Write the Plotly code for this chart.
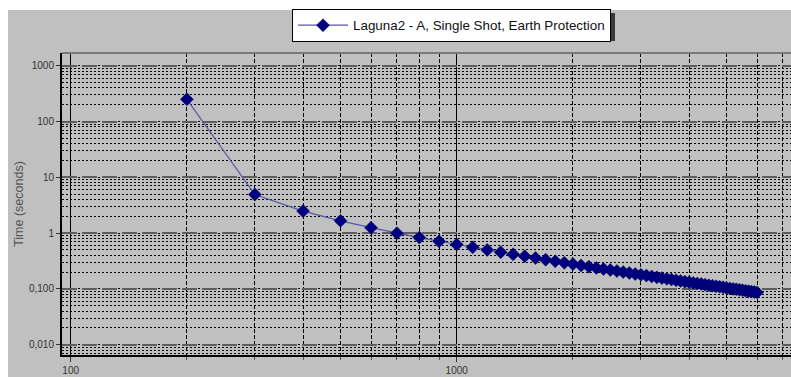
import plotly.graph_objects as go

# ---- data ----
current = [200, 300, 400, 500, 600, 700, 800, 900, 1000,
           1100, 1200, 1300, 1400, 1500, 1600, 1700, 1800, 1900, 2000,
           2100, 2200, 2300, 2400, 2500, 2600, 2700, 2800, 2900, 3000,
           3100, 3200, 3300, 3400, 3500, 3600, 3700, 3800, 3900, 4000,
           4100, 4200, 4300, 4400, 4500, 4600, 4700, 4800, 4900, 5000,
           5100, 5200, 5300, 5400, 5500, 5600, 5700, 5800, 5900, 6000]
time_s = [250, 4.91, 2.48, 1.66, 1.25, 0.998, 0.832, 0.714, 0.625,
          0.555, 0.500, 0.455, 0.417, 0.385, 0.357, 0.334, 0.313, 0.294, 0.278,
          0.263, 0.250, 0.238, 0.227, 0.218, 0.209, 0.200, 0.193, 0.185, 0.179,
          0.173, 0.167, 0.161, 0.156, 0.152, 0.147, 0.143, 0.139, 0.135, 0.132,
          0.128, 0.125, 0.122, 0.119, 0.116, 0.114, 0.111, 0.109, 0.107, 0.104,
          0.102, 0.100, 0.0982, 0.0963, 0.0945, 0.0927, 0.0910, 0.0894, 0.0879, 0.0863]
series_name = "Laguna2 - A, Single Shot, Earth Protection"
y_tickvals = [0.01, 0.1, 1, 10, 100, 1000]
y_ticktext = ["0,010", "0,100", "1", "10", "100", "1000"]
x_tickvals = [100, 1000]
x_ticktext = ["100", "1000"]

FONT = "Liberation Sans, Arial, sans-serif"
W, H = 791, 377
L, T, B, R = 62, 53, 22, 0
PW, PH = W - L - R, H - T - B


def px_x(px):
    return (px - L) / PW


def px_y(py):
    return (H - B - py) / PH


fig = go.Figure()
fig.add_trace(go.Scatter(
    x=current, y=time_s, mode="lines+markers", name=series_name,
    line=dict(color="#5656aa", width=1.2),
    marker=dict(symbol="diamond", size=10, color="#000080",
                line=dict(width=0.5, color="#000050")),
    showlegend=True,
))

shapes = [
    # white strips around the grey panel
    dict(type="rect", xref="paper", yref="paper", x0=px_x(-5), x1=px_x(W + 5),
         y0=px_y(10), y1=px_y(-5), fillcolor="white", line_width=0, layer="below"),
    dict(type="rect", xref="paper", yref="paper", x0=px_x(-5), x1=px_x(8),
         y0=px_y(H + 5), y1=px_y(-5), fillcolor="white", line_width=0, layer="below"),
    # legend shadow
    dict(type="rect", xref="paper", yref="paper", x0=px_x(295), x1=px_x(615),
         y0=px_y(41), y1=px_y(13), fillcolor="#3a3a3a", line_width=0, layer="above"),
    # top border of plot
    dict(type="line", xref="paper", yref="paper", x0=0, x1=1, y0=1, y1=1,
         line=dict(color="#7a7a7a", width=2), layer="above"),
]

fig.update_layout(
    width=W, height=H,
    margin=dict(l=L, r=R, t=T, b=B, pad=0),
    paper_bgcolor="#c0c0c0",
    plot_bgcolor="#c0c0c0",
    font=dict(family=FONT, size=10, color="#333333"),
    shapes=shapes,
    showlegend=True,
    legend=dict(
        x=px_x(292), xanchor="left", y=px_y(9), yanchor="top",
        bgcolor="white", bordercolor="black", borderwidth=1,
        font=dict(family=FONT, size=13.4, color="#111111"),
        itemwidth=50, tracegroupgap=0,
    ),
    xaxis=dict(
        type="log", range=[1.9775, 3.866],
        tickmode="array", tickvals=x_tickvals, ticktext=x_ticktext,
        showgrid=True, gridcolor="black", gridwidth=1,
        showline=True, linecolor="black", linewidth=2,
        ticks="outside", ticklen=5, tickcolor="#333333",
        zeroline=False,
        tickfont=dict(family=FONT, size=10, color="#333333"),
        minor=dict(dtick="D1", showgrid=True, gridcolor="black", gridwidth=1,
                   griddash="4px,2px", ticks="outside", ticklen=3, tickcolor="#555555"),
    ),
    yaxis=dict(
        type="log", range=[-2.1846, 3.2276],
        tickmode="array", tickvals=y_tickvals, ticktext=y_ticktext,
        showgrid=True, gridcolor="#5e5e5e", gridwidth=2, griddash="15px,5px",
        showline=True, linecolor="black", linewidth=2,
        ticks="outside", ticklen=4, tickcolor="#333333",
        zeroline=False,
        tickfont=dict(family=FONT, size=10, color="#333333"),
        title=dict(text="Time (seconds)",
                   font=dict(family=FONT, size=12.5, color="#555555"),
                   standoff=3),
        minor=dict(dtick="D1", showgrid=True, gridcolor="black", gridwidth=1,
                   griddash="2px,2px", ticks=""),
    ),
)

fig.write_html("out.html")
